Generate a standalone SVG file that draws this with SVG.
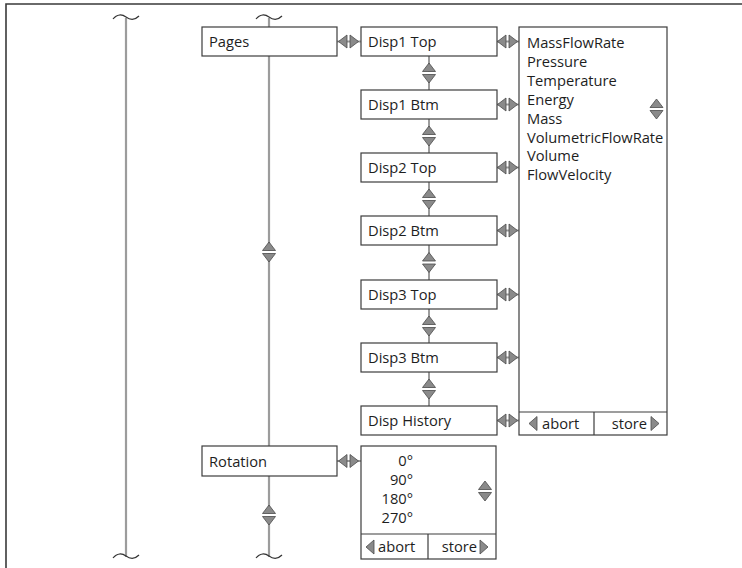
<svg xmlns="http://www.w3.org/2000/svg" xmlns:xlink="http://www.w3.org/1999/xlink" width="742" height="568" viewBox="0 0 742 568">
<style>
.frame{fill:none;stroke:#3a3a3a;stroke-width:1.6}
.rail{stroke:#9c9c9c;stroke-width:2.2;fill:none}
.tilde{stroke:#333;stroke-width:1.2;fill:none}
.box{fill:#fff;stroke:#3c3c3c;stroke-width:1.2}
.sep{stroke:#3c3c3c;stroke-width:1.2}
.conn{stroke:#9c9c9c;stroke-width:2;fill:none}
.tri{fill:#8a8a8a;stroke:#4a4a4a;stroke-width:0.8;stroke-linejoin:round}
.gap{fill:#fff;stroke:none}
text{font-family:"Open Sans","Liberation Sans",sans-serif;font-size:14.7px;fill:#1e1e1e}
.r{text-anchor:end}
</style>
<defs>
<g id="ud"><rect class="gap" x="-7" y="-1.5" width="14" height="3"/><polygon class="tri" points="-6.5,-1.5 6.5,-1.5 0,-10"/><polygon class="tri" points="-6.5,1.5 6.5,1.5 0,10"/></g>
<g id="lr"><polygon class="tri" points="-1.5,-6.5 -1.5,6.5 -10,0"/><polygon class="tri" points="1.5,-6.5 1.5,6.5 10,0"/></g>
<polygon id="tl" class="tri" points="8,-7 8,7 0,0"/>
<polygon id="tr" class="tri" points="0,-7 0,7 8,0"/>
<path id="tilde" class="tilde" d="M-13,1 C-9,-4 -4,-4 0,-1 C4,2 9,2 13,-2"/>
</defs>
<path class="frame" d="M6,568 V4 H742"/>
<g id="connectors">
<line class="rail" x1="126" y1="18" x2="126" y2="557"/>
<line class="rail" x1="269" y1="18" x2="269" y2="557"/>
<use href="#tilde" transform="translate(126,18)"/>
<use href="#tilde" transform="translate(126,557)"/>
<use href="#tilde" transform="translate(269,18)"/>
<use href="#tilde" transform="translate(269,557)"/>
<use href="#ud" transform="translate(269,252)"/>
<use href="#ud" transform="translate(269,515)"/>
<line class="conn" x1="429" y1="56" x2="429" y2="406"/>
<use href="#ud" transform="translate(429,73)"/>
<use href="#ud" transform="translate(429,136)"/>
<use href="#ud" transform="translate(429,199)"/>
<use href="#ud" transform="translate(429,262.5)"/>
<use href="#ud" transform="translate(429,326)"/>
<use href="#ud" transform="translate(429,389)"/>
<line class="conn" x1="337" y1="41.5" x2="361" y2="41.5"/>
<use href="#lr" transform="translate(348.5,41.5)"/>
<line class="conn" x1="337" y1="461" x2="361" y2="461"/>
<use href="#lr" transform="translate(348.5,461)"/>
<line class="conn" x1="497" y1="41.5" x2="519" y2="41.5"/>
<use href="#lr" transform="translate(507.5,41.5)"/>
<line class="conn" x1="497" y1="104.5" x2="519" y2="104.5"/>
<use href="#lr" transform="translate(507.5,104.5)"/>
<line class="conn" x1="497" y1="167.5" x2="519" y2="167.5"/>
<use href="#lr" transform="translate(507.5,167.5)"/>
<line class="conn" x1="497" y1="230.5" x2="519" y2="230.5"/>
<use href="#lr" transform="translate(507.5,230.5)"/>
<line class="conn" x1="497" y1="294.5" x2="519" y2="294.5"/>
<use href="#lr" transform="translate(507.5,294.5)"/>
<line class="conn" x1="497" y1="357.5" x2="519" y2="357.5"/>
<use href="#lr" transform="translate(507.5,357.5)"/>
<line class="conn" x1="497" y1="420.5" x2="519" y2="420.5"/>
<use href="#lr" transform="translate(507.5,420.5)"/>
</g>
<g id="pages"><rect class="box" x="202" y="27" width="135" height="29"/><text x="209" y="47">Pages</text></g>
<g id="rotation"><rect class="box" x="202" y="446" width="135" height="30"/><text x="209" y="466.5">Rotation</text></g>
<g id="disp1top"><rect class="box" x="361" y="27" width="136" height="29"/><text x="368" y="47">Disp1 Top</text></g>
<g id="disp1btm"><rect class="box" x="361" y="90" width="136" height="29"/><text x="368" y="110">Disp1 Btm</text></g>
<g id="disp2top"><rect class="box" x="361" y="153" width="136" height="29"/><text x="368" y="173">Disp2 Top</text></g>
<g id="disp2btm"><rect class="box" x="361" y="216" width="136" height="29"/><text x="368" y="236">Disp2 Btm</text></g>
<g id="disp3top"><rect class="box" x="361" y="280" width="136" height="29"/><text x="368" y="300">Disp3 Top</text></g>
<g id="disp3btm"><rect class="box" x="361" y="343" width="136" height="29"/><text x="368" y="363">Disp3 Btm</text></g>
<g id="disphistory"><rect class="box" x="361" y="406" width="136" height="29"/><text x="368" y="426">Disp History</text></g>
<g id="valuelist">
<rect class="box" x="519" y="27" width="148" height="408"/>
<line class="sep" x1="519" y1="412" x2="667" y2="412"/>
<line class="sep" x1="594" y1="412" x2="594" y2="435"/>
<text x="527" y="48">MassFlowRate</text>
<text x="527" y="66.9">Pressure</text>
<text x="527" y="85.8">Temperature</text>
<text x="527" y="104.7">Energy</text>
<text x="527" y="123.6">Mass</text>
<text x="527" y="142.5">VolumetricFlowRate</text>
<text x="527" y="161.4">Volume</text>
<text x="527" y="180.3">FlowVelocity</text>
<use href="#ud" transform="translate(656.5,109)"/>
<use href="#tl" transform="translate(529,423.5)"/>
<text x="542" y="429">abort</text>
<text class="r" x="647" y="429">store</text>
<use href="#tr" transform="translate(651,423.5)"/>
</g>
<g id="rotationlist">
<rect class="box" x="361" y="446" width="135" height="113"/>
<line class="sep" x1="361" y1="534" x2="496" y2="534"/>
<line class="sep" x1="428" y1="534" x2="428" y2="559"/>
<text class="r" x="413" y="466">0°</text>
<text class="r" x="413" y="485">90°</text>
<text class="r" x="413" y="504">180°</text>
<text class="r" x="413" y="523">270°</text>
<use href="#ud" transform="translate(485,491)"/>
<use href="#tl" transform="translate(366,547)"/>
<text x="378" y="552">abort</text>
<text class="r" x="477" y="552">store</text>
<use href="#tr" transform="translate(480,547)"/>
</g>
</svg>
